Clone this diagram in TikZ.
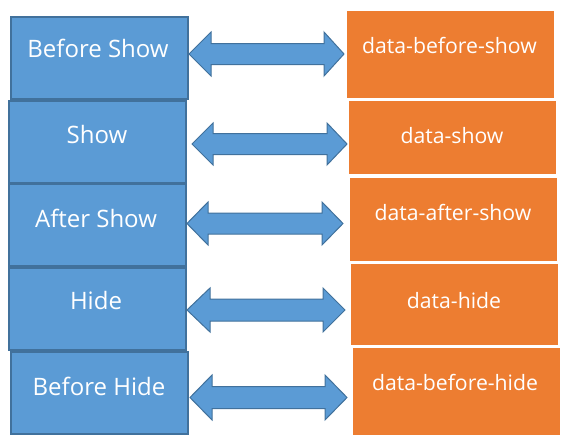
\documentclass[tikz,border=0pt]{standalone}
\usepackage{fontspec}
\setmainfont{Open Sans}
\definecolor{bfill}{HTML}{5B9BD5}
\definecolor{bline}{HTML}{41719C}
\definecolor{ofill}{HTML}{ED7D31}
\tikzset{
  bbox/.style={draw=bline, fill=bfill, line width=2pt, inner sep=0pt},
  obox/.style={fill=ofill, inner sep=0pt},
  btext/.style={text=white, font=\fontsize{24}{26}\selectfont, anchor=base, inner sep=0pt},
  otext/.style={text=white, font=\fontsize{21.2}{24}\selectfont, anchor=base, inner sep=0pt},
  dbl/.style={draw=bline, fill=bfill, line width=1pt, line join=miter}
}
% #1 left tip, #2 left base, #3 right base, #4 right tip, #5 centre y, #6 head half height, #7 shaft half height
\newcommand\DblArrow[7]{%
  \draw[dbl] (#1,#5) -- (#2,{#5-#6}) -- (#2,{#5-#7}) -- (#3,{#5-#7}) -- (#3,{#5-#6})
    -- (#4,#5) -- (#3,{#5+#6}) -- (#3,{#5+#7}) -- (#2,{#5+#7}) -- (#2,{#5+#6}) -- cycle;}
\begin{document}
\begin{tikzpicture}[x=1pt, y=-1pt]
\useasboundingbox (0,0) rectangle (570,447);
% blue boxes
\node[bbox, minimum width=177pt, minimum height=82pt] (b1) at (99,57.5) {};
\node[bbox, minimum width=177pt, minimum height=82pt] (b2) at (97,141.5) {};
\node[bbox, minimum width=177pt, minimum height=82pt] (b3) at (97,224.5) {};
\node[bbox, minimum width=177pt, minimum height=82pt] (b4) at (97,308.5) {};
\node[bbox, minimum width=177pt, minimum height=82pt] (b5) at (99,392.5) {};
\node[btext] (t1) at (98,57) {Before Show};
\node[btext] (t2) at (97,143) {Show};
\node[btext] (t3) at (96,227) {After Show};
\node[btext] (t4) at (96,309) {Hide};
\node[btext] (t5) at (99,395) {Before Hide};
% orange boxes
\node[obox, minimum width=207pt, minimum height=87pt] (o1) at (450.5,54.5) {};
\node[obox, minimum width=207pt, minimum height=73pt] (o2) at (452.5,137.5) {};
\node[obox, minimum width=207pt, minimum height=83pt] (o3) at (453.5,219.5) {};
\node[obox, minimum width=207pt, minimum height=81pt] (o4) at (454.5,304.5) {};
\node[obox, minimum width=207pt, minimum height=87pt] (o5) at (456.5,391.5) {};
\node[otext] (u1) at (449.5,53) {data-before-show};
\node[otext] (u2) at (452,143) {data-show};
\node[otext] (u3) at (453,220) {data-after-show};
\node[otext] (u4) at (454,308) {data-hide};
\node[otext] (u5) at (455,390) {data-before-hide};
% double arrows
\DblArrow{189}{211}{324}{344}{54}{22}{10.5}
\DblArrow{192}{213}{327}{347}{144}{21}{10.5}
\DblArrow{187}{208}{322}{343}{223.5}{21.5}{10.5}
\DblArrow{187}{210}{323}{345}{310}{22}{11}
\DblArrow{190}{212}{325}{347}{397.5}{22.5}{11}
\end{tikzpicture}
\end{document}
